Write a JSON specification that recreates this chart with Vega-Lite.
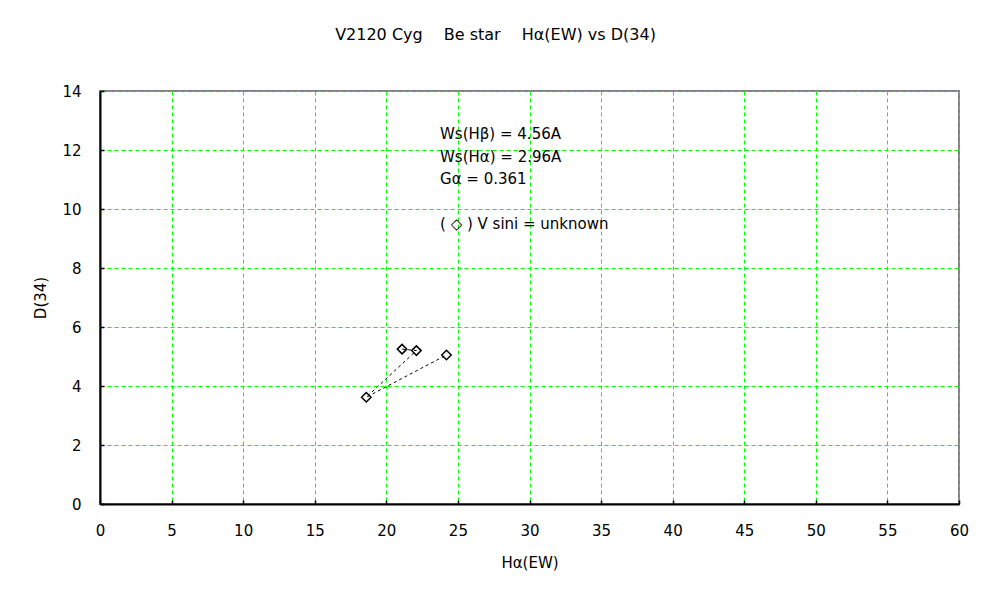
{
  "$schema": "https://vega.github.io/schema/vega-lite/v6.json",
  "autosize": {"type": "none"},
  "padding": {"left": 100, "top": 91, "right": 41, "bottom": 96},
  "width": 859,
  "height": 413,
  "background": "white",
  "title": {
    "text": "V2120 Cyg\u3000 Be star\u3000 Hα(EW) vs D(34)",
    "font": "DejaVu Sans",
    "fontSize": 16,
    "fontWeight": "normal",
    "color": "black",
    "anchor": "middle",
    "offset": 41,
    "dx": -34
  },
  "config": {
    "view": {"stroke": "#808080", "strokeWidth": 2},
    "axis": {
      "labelFont": "DejaVu Sans",
      "labelFontSize": 15,
      "labelColor": "black",
      "labelFlush": false,
      "titleFont": "DejaVu Sans",
      "titleFontSize": 15,
      "titleFontWeight": "normal",
      "titleColor": "black",
      "domainColor": "black",
      "domainWidth": 2,
      "tickColor": "black",
      "tickWidth": 1.5,
      "tickSize": -4,
      "grid": true,
      "gridColor": "#00ff00",
      "gridDash": [4, 3],
      "gridWidth": 1,
      "gridOpacity": 1
    }
  },
  "datasets": {
    "pts": [
      {"ew": 21.1, "d34": 5.25, "i": 1},
      {"ew": 22.1, "d34": 5.2, "i": 2},
      {"ew": 18.6, "d34": 3.62, "i": 3},
      {"ew": 24.2, "d34": 5.05, "i": 4}
    ],
    "notes": [
      {"x": 23.75, "y": 12.54, "t": "Ws(Hβ) = 4.56A"},
      {"x": 23.75, "y": 11.76, "t": "Ws(Hα) = 2.96A"},
      {"x": 23.75, "y": 11.02, "t": "Gα = 0.361"},
      {"x": 23.75, "y": 9.49, "t": "( ◇ ) V sini = unknown"}
    ]
  },
  "layer": [
    {
      "data": {"name": "pts"},
      "mark": {"type": "line", "color": "black", "strokeWidth": 1, "strokeDash": [3, 3]},
      "encoding": {
        "x": {
          "field": "ew", "type": "quantitative",
          "scale": {"domain": [0, 60], "nice": false, "zero": false},
          "axis": {"values": [0,5,10,15,20,25,30,35,40,45,50,55,60], "title": "Hα(EW)", "labelPadding": 23, "titlePadding": 17}
        },
        "y": {
          "field": "d34", "type": "quantitative",
          "scale": {"domain": [0, 14], "nice": false},
          "axis": {"values": [0,2,4,6,8,10,12,14], "title": "D(34)", "labelPadding": 23, "titlePadding": 13}
        },
        "order": {"field": "i"}
      }
    },
    {
      "data": {"name": "pts"},
      "mark": {"type": "point", "shape": "diamond", "size": 90, "filled": false, "color": "black", "strokeWidth": 1.5, "opacity": 1},
      "encoding": {
        "x": {"field": "ew", "type": "quantitative"},
        "y": {"field": "d34", "type": "quantitative"}
      }
    },
    {
      "data": {"name": "notes"},
      "mark": {"type": "text", "align": "left", "baseline": "middle", "font": "DejaVu Sans", "fontSize": 15, "color": "black"},
      "encoding": {
        "x": {"field": "x", "type": "quantitative"},
        "y": {"field": "y", "type": "quantitative"},
        "text": {"field": "t"}
      }
    }
  ]
}
